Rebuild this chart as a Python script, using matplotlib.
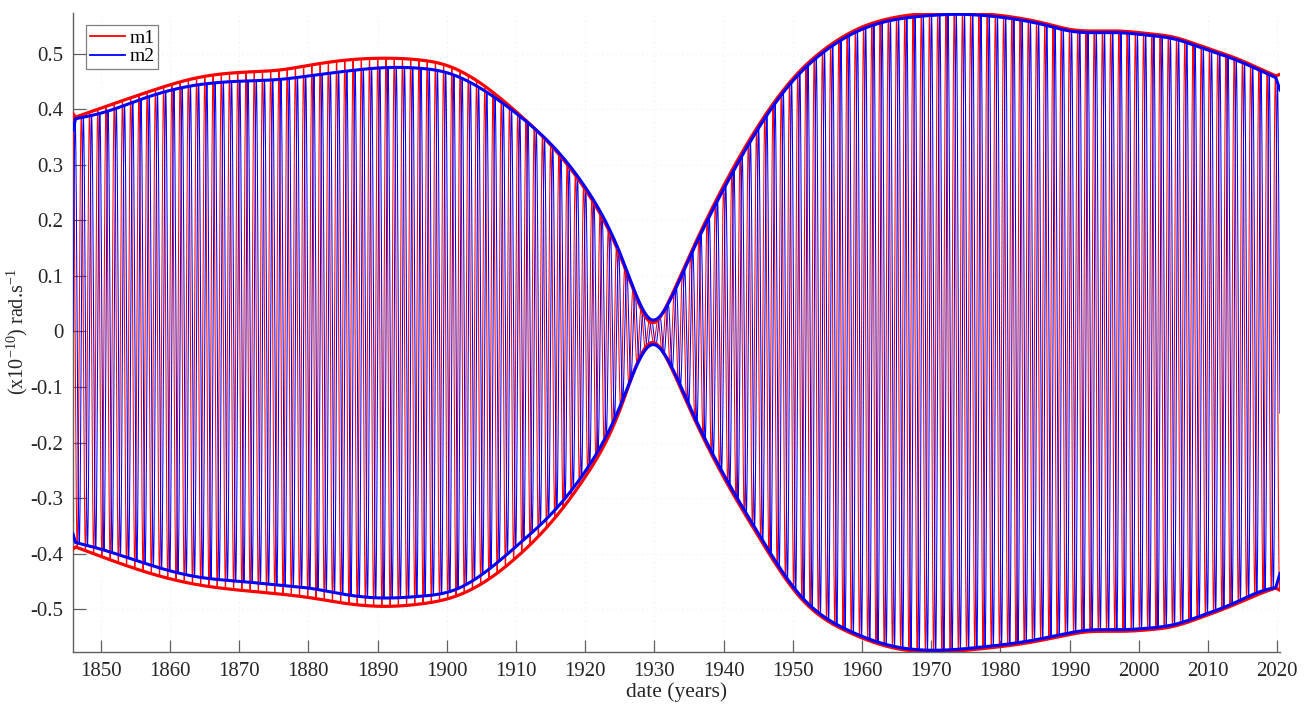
import numpy as np
import matplotlib
matplotlib.use("Agg")
import matplotlib.pyplot as plt

plt.rcParams["font.family"] = ["Liberation Serif", "DejaVu Serif"]
plt.rcParams["mathtext.fontset"] = "custom"
plt.rcParams["mathtext.rm"] = "Liberation Serif"
plt.rcParams["mathtext.it"] = "Liberation Serif:italic"
plt.rcParams["mathtext.default"] = "regular"
plt.rcParams["axes.unicode_minus"] = False

# Envelope knots (years, amplitude in 1e-10 rad/s)
up_years = [1846.0, 1846.35, 1850, 1857, 1864, 1871, 1876, 1880, 1885, 1891, 1896, 1900,
            1905, 1910, 1915, 1920, 1925, 1927.5, 1929.6, 1932, 1935, 1940,
            1945, 1950, 1955, 1960, 1965, 1970, 1973, 1977.5, 1982.3, 1987,
            1990, 1993, 1997, 2001.6, 2005, 2009, 2013.6, 2018.4, 2019.8, 2020.4]
m1_upper = [0.392, 0.386, 0.402, 0.432, 0.457, 0.467, 0.471, 0.479, 0.488, 0.492, 0.489, 0.479,
            0.446, 0.396, 0.336, 0.256, 0.138, 0.058, 0.016, 0.052, 0.134, 0.262,
            0.370, 0.455, 0.512, 0.548, 0.566, 0.573, 0.574, 0.572, 0.565, 0.553,
            0.544, 0.541, 0.541, 0.536, 0.530, 0.514, 0.494, 0.468, 0.460, 0.463]
m2_upper = [0.362, 0.383, 0.393, 0.423, 0.444, 0.451, 0.454, 0.460, 0.468, 0.475, 0.474, 0.466,
            0.437, 0.393, 0.338, 0.260, 0.142, 0.062, 0.021, 0.050, 0.130, 0.256,
            0.365, 0.451, 0.508, 0.544, 0.562, 0.569, 0.571, 0.569, 0.562, 0.550,
            0.541, 0.538, 0.538, 0.533, 0.527, 0.511, 0.491, 0.465, 0.457, 0.435]

lo_years = [1846.0, 1846.35, 1850, 1857, 1864, 1871, 1876, 1880, 1885, 1891, 1896, 1901,
            1905.7, 1910.5, 1915, 1920, 1925, 1927.5, 1929.6, 1932, 1935, 1940,
            1945, 1951, 1958, 1965, 1970.3, 1977.5, 1984.7, 1989.5, 1992.5, 1997,
            2001.6, 2005, 2009, 2013.6, 2018.4, 2019.8, 2020.4]
m1_lower = [-0.392, -0.388, -0.405, -0.435, -0.456, -0.467, -0.473, -0.479, -0.489, -0.495, -0.491, -0.478,
            -0.449, -0.402, -0.345, -0.262, -0.142, -0.058, -0.020, -0.054, -0.136, -0.262,
            -0.368, -0.478, -0.541, -0.571, -0.577, -0.571, -0.559, -0.547, -0.541, -0.540,
            -0.537, -0.531, -0.515, -0.493, -0.468, -0.462, -0.466]
m2_lower = [-0.365, -0.380, -0.392, -0.420, -0.442, -0.451, -0.457, -0.462, -0.473, -0.480, -0.477, -0.466,
            -0.432, -0.382, -0.330, -0.252, -0.136, -0.060, -0.024, -0.052, -0.132, -0.257,
            -0.363, -0.474, -0.538, -0.568, -0.574, -0.568, -0.556, -0.544, -0.538, -0.537,
            -0.534, -0.528, -0.512, -0.490, -0.465, -0.461, -0.436]

chandler_period = 1.19  # years
x_ticks = list(range(1850, 2021, 10))
y_ticks = [-0.5, -0.4, -0.3, -0.2, -0.1, 0, 0.1, 0.2, 0.3, 0.4, 0.5]
y_ticklabels = ["-0.5", "-0.4", "-0.3", "-0.2", "-0.1", "0", "0.1", "0.2", "0.3", "0.4", "0.5"]


def natural_spline(xk, yk, x):
    """Natural cubic spline through the knots (xk, yk), evaluated at x."""
    xk = np.asarray(xk, float)
    yk = np.asarray(yk, float)
    n = len(xk)
    h = np.diff(xk)
    A = np.zeros((n, n))
    b = np.zeros(n)
    A[0, 0] = A[-1, -1] = 1.0
    for i in range(1, n - 1):
        A[i, i - 1] = h[i - 1]
        A[i, i] = 2 * (h[i - 1] + h[i])
        A[i, i + 1] = h[i]
        b[i] = 3 * ((yk[i + 1] - yk[i]) / h[i] - (yk[i] - yk[i - 1]) / h[i - 1])
    c = np.linalg.solve(A, b)
    bb = (yk[1:] - yk[:-1]) / h - h * (2 * c[:-1] + c[1:]) / 3
    d = (c[1:] - c[:-1]) / (3 * h)
    idx = np.clip(np.searchsorted(xk, x) - 1, 0, n - 2)
    dx = x - xk[idx]
    return yk[idx] + bb[idx] * dx + c[idx] * dx**2 + d[idx] * dx**3


def envelope(years, values, x):
    """Smooth spline over the interior knots, straight end segments."""
    years = np.asarray(years, float)
    values = np.asarray(values, float)
    out = np.interp(x, years, values)
    inner = (x >= years[1]) & (x <= years[-2])
    out[inner] = natural_spline(years[1:-1], values[1:-1], x[inner])
    return out


t = np.arange(1846.0, 2020.4 + 1e-9, 0.01)
u1 = envelope(up_years, m1_upper, t)
l1 = envelope(lo_years, m1_lower, t)
u2 = envelope(up_years, m2_upper, t)
l2 = envelope(lo_years, m2_lower, t)

phase = 2 * np.pi * (t - 1846.0) / chandler_period
m1 = 0.5 * (u1 + l1) + 0.5 * (u1 - l1) * np.cos(phase)
m2 = 0.5 * (u2 + l2) + 0.5 * (u2 - l2) * np.sin(phase)

fig = plt.figure(figsize=(13.07, 7.04), dpi=100)
ax = fig.add_axes([0.0559, 0.074, 0.9234, 0.908])

ax.plot(t, m1, color="#ff0000", lw=0.75, label="m1", zorder=3)
ax.plot(t, m2, color="#0000ff", lw=0.75, label="m2", zorder=3)
ax.plot(t, u1, color="#ff0000", lw=2.3, zorder=4)
ax.plot(t, l1, color="#ff0000", lw=2.3, zorder=4)
ax.plot(t, u2, color="#0000ff", lw=2.2, zorder=5)
ax.plot(t, l2, color="#0000ff", lw=2.2, zorder=5)

ax.set_xlim(1846.0, 2020.4)
ax.set_ylim(-0.577, 0.574)
ax.set_xticks(x_ticks)
ax.set_yticks(y_ticks)
ax.set_yticklabels(y_ticklabels)

for side in ("top", "right"):
    ax.spines[side].set_visible(False)
for side in ("left", "bottom"):
    ax.spines[side].set_color("#606060")
    ax.spines[side].set_linewidth(1.0)

ax.tick_params(direction="in", length=9, width=0.9, color="#606060",
               labelsize=15, labelcolor="#262626", pad=7)
ax.grid(True, color="#000000", alpha=0.07, linestyle=(0, (1, 3)), linewidth=0.8, zorder=0)
ax.set_axisbelow(True)

ax.set_xlabel("date (years)", fontsize=15.5, color="#262626", labelpad=1)
ax.set_ylabel("(x10$^{-10}$) rad.s$^{-1}$", fontsize=14.5, color="#262626", labelpad=0)

leg = ax.legend(loc="upper left", fontsize=14, frameon=True, fancybox=False,
                handlelength=1.8, handletextpad=0.25, borderpad=0.2, labelspacing=0.05,
                borderaxespad=0.65)
leg.get_frame().set_edgecolor("#606060")
leg.get_frame().set_linewidth(0.9)
for handle in leg.get_lines():
    handle.set_linewidth(1.3)

fig.savefig("out.png", dpi=100)
